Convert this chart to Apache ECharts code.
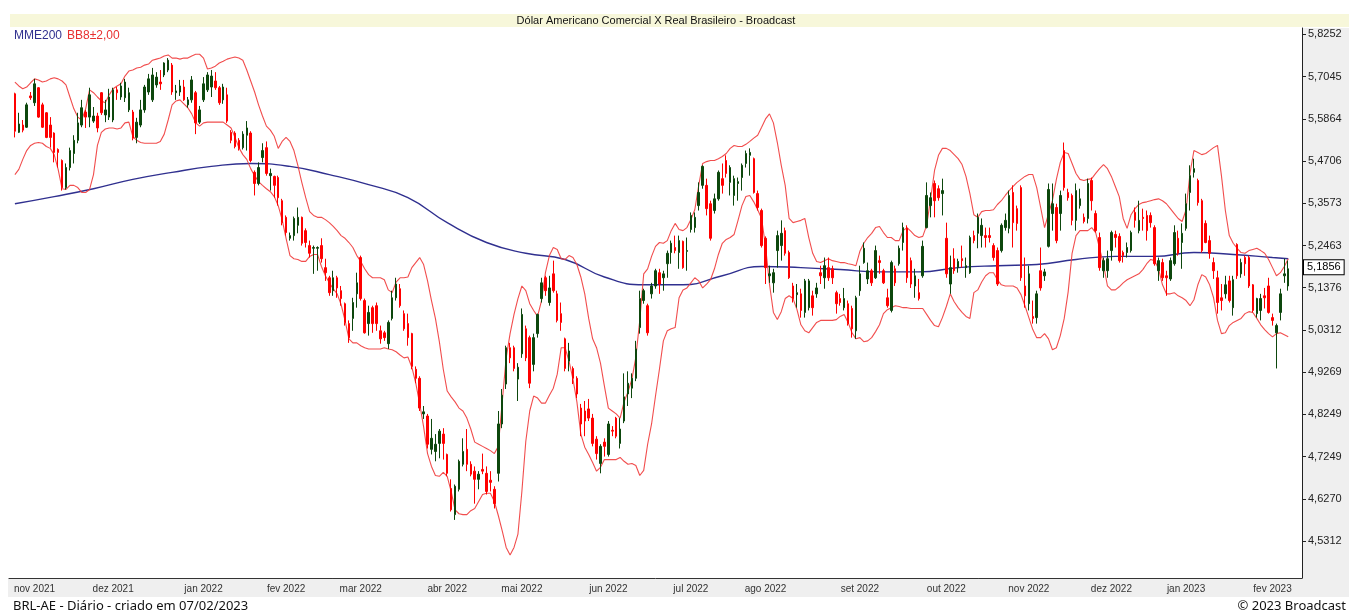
<!DOCTYPE html>
<html>
<head>
<meta charset="utf-8">
<script src="https://cdn.jsdelivr.net/npm/echarts@6/dist/echarts.min.js"></script>
<style>
  html, body { margin: 0; padding: 0; background: #fff; }
  #chart { width: 1349px; height: 614px; }
</style>
</head>
<body>
<div id="chart"></div>
<script>
// BRL-AE daily, 25/10/2021 .. 07/02/2023
const openValues = [
  5.656,5.549,5.569,5.563,5.650,5.631,5.673,5.625,5.603,5.569,
  5.547,5.502,5.472,5.399,5.453,5.491,5.527,5.569,5.605,5.591,
  5.580,5.594,5.659,5.597,5.591,5.583,5.667,5.647,5.645,5.611,
  5.605,5.535,5.569,5.611,5.661,5.639,5.681,5.689,5.709,5.723,
  5.737,5.659,5.661,5.675,5.625,5.639,5.659,5.577,5.639,5.667,
  5.675,5.692,5.673,5.639,5.653,5.549,5.547,5.527,5.507,5.541,
  5.547,5.440,5.410,5.480,5.507,5.431,5.429,5.426,5.364,5.320,
  5.265,5.272,5.299,5.320,5.285,5.246,5.239,5.239,5.246,5.189,
  5.163,5.130,5.163,5.130,5.097,5.047,5.060,5.122,5.215,5.105,
  5.047,5.087,5.092,5.029,5.024,4.997,5.060,5.112,5.135,5.072,
  5.047,5.022,4.934,4.912,4.826,4.821,4.742,4.737,4.756,4.778,
  4.730,4.651,4.591,4.649,4.707,4.742,4.707,4.691,4.672,4.695,
  4.686,4.670,4.649,4.686,4.802,4.898,4.987,4.987,4.910,4.972,
  5.034,5.012,4.946,5.022,5.110,5.163,5.100,5.173,5.122,5.072,
  5.009,4.954,4.936,4.912,4.840,4.833,4.838,4.816,4.766,4.709,
  4.759,4.730,4.787,4.816,4.756,4.809,4.874,4.888,4.912,5.037,
  5.105,5.092,5.122,5.142,5.176,5.163,5.199,5.228,5.241,5.228,
  5.257,5.231,5.288,5.293,5.351,5.405,5.405,5.356,5.338,5.369,
  5.423,5.472,5.413,5.378,5.410,5.426,5.464,5.486,5.477,5.383,
  5.338,5.265,5.168,5.150,5.233,5.246,5.285,5.228,5.142,5.120,
  5.122,5.075,5.087,5.117,5.122,5.176,5.163,5.189,5.186,5.125,
  5.110,5.087,5.097,5.085,5.029,5.130,5.202,5.160,5.181,5.163,
  5.207,5.181,5.112,5.080,5.186,5.199,5.254,5.291,5.207,5.142,
  5.125,5.168,5.293,5.351,5.410,5.396,5.383,5.265,5.147,5.212,
  5.189,5.212,5.189,5.176,5.272,5.278,5.272,5.272,5.272,5.246,
  5.233,5.233,5.293,5.291,5.386,5.343,5.399,5.142,5.097,5.065,
  5.062,5.181,5.168,5.244,5.330,5.346,5.330,5.499,5.386,5.378,
  5.312,5.351,5.320,5.317,5.418,5.330,5.267,5.181,5.181,5.233,
  5.275,5.270,5.228,5.228,5.233,5.333,5.285,5.320,5.325,5.325,
  5.293,5.181,5.202,5.168,5.160,5.199,5.265,5.254,5.291,5.386,
  5.440,5.418,5.364,5.304,5.259,5.202,5.163,5.112,5.122,5.155,
  5.087,5.249,5.173,5.215,5.215,5.145,5.072,5.080,5.117,5.142,
  5.062,5.024,5.075,5.168,5.142
];
const closeValues = [
  5.552,5.572,5.555,5.625,5.645,5.684,5.591,5.563,5.535,5.535,
  5.494,5.494,5.399,5.453,5.499,5.527,5.575,5.617,5.591,5.653,
  5.594,5.561,5.603,5.611,5.647,5.667,5.659,5.678,5.689,5.659,
  5.533,5.577,5.611,5.675,5.698,5.709,5.703,5.684,5.743,5.751,
  5.661,5.664,5.678,5.639,5.639,5.695,5.575,5.611,5.684,5.709,
  5.706,5.673,5.631,5.675,5.580,5.527,5.510,5.505,5.544,5.561,
  5.472,5.410,5.453,5.499,5.437,5.437,5.405,5.372,5.306,5.280,
  5.272,5.317,5.320,5.252,5.254,5.226,5.241,5.241,5.212,5.176,
  5.125,5.163,5.137,5.110,5.050,5.012,5.100,5.150,5.110,5.024,
  5.075,5.047,5.047,5.009,5.012,5.050,5.112,5.147,5.092,5.034,
  5.012,4.941,4.912,4.840,4.831,4.754,4.768,4.754,4.785,4.756,
  4.686,4.602,4.656,4.714,4.737,4.707,4.684,4.672,4.684,4.691,
  4.644,4.665,4.616,4.802,4.871,4.987,4.962,4.936,4.939,5.070,
  4.962,4.900,5.012,5.070,5.150,5.130,5.137,5.130,5.055,5.050,
  4.936,4.979,4.912,4.874,4.802,4.809,4.816,4.756,4.732,4.749,
  4.749,4.802,4.785,4.773,4.790,4.867,4.900,4.912,4.984,5.110,
  5.130,5.024,5.142,5.181,5.147,5.173,5.226,5.252,5.233,5.259,
  5.189,5.233,5.325,5.320,5.386,5.456,5.343,5.265,5.369,5.440,
  5.405,5.437,5.453,5.423,5.415,5.459,5.491,5.494,5.386,5.346,
  5.246,5.189,5.173,5.176,5.272,5.278,5.226,5.163,5.110,5.125,
  5.080,5.155,5.155,5.087,5.137,5.168,5.194,5.163,5.163,5.097,
  5.100,5.110,5.047,5.034,5.112,5.173,5.239,5.181,5.150,5.233,
  5.202,5.150,5.092,5.202,5.150,5.239,5.293,5.163,5.147,5.168,
  5.110,5.244,5.378,5.372,5.364,5.372,5.391,5.173,5.189,5.181,
  5.205,5.207,5.194,5.267,5.259,5.320,5.299,5.267,5.267,5.215,
  5.147,5.299,5.312,5.378,5.306,5.304,5.163,5.117,5.173,5.060,
  5.122,5.137,5.178,5.394,5.356,5.259,5.378,5.399,5.372,5.312,
  5.391,5.369,5.309,5.410,5.364,5.285,5.189,5.207,5.212,5.280,
  5.267,5.207,5.220,5.241,5.280,5.312,5.312,5.317,5.285,5.306,
  5.199,5.207,5.163,5.163,5.207,5.280,5.226,5.278,5.356,5.431,
  5.450,5.359,5.233,5.254,5.226,5.181,5.100,5.105,5.145,5.105,
  5.158,5.168,5.202,5.199,5.142,5.080,5.110,5.110,5.112,5.075,
  5.055,5.042,5.122,5.173,5.186
];
const lowValues = [
  5.535,5.547,5.549,5.561,5.639,5.622,5.589,5.561,5.533,5.507,
  5.467,5.453,5.391,5.394,5.445,5.464,5.519,5.563,5.561,5.563,
  5.575,5.549,5.597,5.577,5.583,5.577,5.639,5.639,5.633,5.605,
  5.527,5.519,5.563,5.603,5.653,5.633,5.673,5.667,5.703,5.717,
  5.653,5.639,5.650,5.636,5.617,5.631,5.544,5.572,5.633,5.661,
  5.647,5.667,5.625,5.628,5.575,5.519,5.505,5.499,5.502,5.499,
  5.467,5.378,5.405,5.467,5.431,5.391,5.372,5.351,5.299,5.272,
  5.259,5.259,5.278,5.246,5.241,5.215,5.173,5.181,5.202,5.155,
  5.117,5.117,5.112,5.092,5.042,4.999,5.029,5.087,5.105,5.022,
  5.017,5.024,5.029,4.997,5.004,4.984,5.055,5.105,5.087,5.029,
  4.992,4.934,4.900,4.833,4.814,4.744,4.730,4.714,4.721,4.718,
  4.679,4.598,4.579,4.644,4.702,4.691,4.679,4.616,4.649,4.684,
  4.637,4.644,4.605,4.667,4.792,4.886,4.949,4.929,4.857,4.962,
  4.954,4.888,4.929,5.012,5.100,5.117,5.092,5.125,5.050,5.029,
  4.929,4.929,4.898,4.864,4.773,4.773,4.809,4.749,4.718,4.686,
  4.725,4.725,4.773,4.768,4.744,4.804,4.845,4.864,4.905,5.022,
  5.097,5.017,5.110,5.135,5.122,5.130,5.163,5.199,5.226,5.186,
  5.186,5.181,5.280,5.280,5.338,5.396,5.325,5.259,5.330,5.364,
  5.383,5.426,5.378,5.351,5.364,5.391,5.453,5.431,5.383,5.338,
  5.241,5.147,5.150,5.125,5.189,5.207,5.220,5.160,5.100,5.087,
  5.062,5.062,5.080,5.067,5.112,5.147,5.135,5.155,5.147,5.072,
  5.092,5.080,5.042,5.012,5.009,5.117,5.199,5.147,5.142,5.160,
  5.173,5.147,5.087,5.075,5.142,5.194,5.233,5.150,5.137,5.112,
  5.105,5.163,5.291,5.320,5.320,5.364,5.325,5.163,5.122,5.173,
  5.176,5.189,5.163,5.173,5.252,5.239,5.241,5.241,5.254,5.207,
  5.142,5.228,5.285,5.278,5.241,5.285,5.155,5.087,5.080,5.047,
  5.047,5.130,5.155,5.241,5.285,5.252,5.285,5.391,5.364,5.299,
  5.285,5.343,5.304,5.304,5.338,5.280,5.181,5.163,5.163,5.207,
  5.241,5.202,5.202,5.215,5.228,5.293,5.278,5.285,5.259,5.293,
  5.194,5.155,5.155,5.117,5.155,5.194,5.220,5.186,5.285,5.338,
  5.426,5.351,5.228,5.252,5.212,5.160,5.072,5.080,5.110,5.100,
  5.067,5.160,5.163,5.168,5.137,5.075,5.062,5.055,5.085,5.072,
  5.042,4.936,5.055,5.150,5.130
];
const highValues = [
  5.659,5.603,5.583,5.631,5.661,5.698,5.675,5.631,5.605,5.591,
  5.549,5.505,5.475,5.464,5.507,5.541,5.603,5.639,5.611,5.673,
  5.619,5.603,5.661,5.639,5.670,5.673,5.675,5.687,5.698,5.673,
  5.611,5.589,5.639,5.681,5.712,5.729,5.717,5.723,5.745,5.757,
  5.743,5.681,5.695,5.695,5.647,5.706,5.664,5.622,5.703,5.717,
  5.723,5.717,5.678,5.684,5.673,5.555,5.552,5.533,5.552,5.580,
  5.552,5.445,5.467,5.519,5.524,5.450,5.431,5.431,5.369,5.325,
  5.280,5.322,5.346,5.322,5.291,5.259,5.246,5.244,5.265,5.212,
  5.168,5.181,5.168,5.142,5.100,5.055,5.112,5.176,5.220,5.110,
  5.092,5.092,5.100,5.042,5.029,5.055,5.130,5.163,5.147,5.080,
  5.072,5.024,4.941,4.917,4.845,4.826,4.814,4.778,4.790,4.792,
  4.732,4.672,4.660,4.718,4.768,4.790,4.714,4.702,4.691,4.732,
  4.702,4.691,4.656,4.833,4.886,4.992,4.999,4.992,4.949,5.085,
  5.042,5.017,5.022,5.072,5.163,5.168,5.168,5.207,5.130,5.100,
  5.012,4.999,4.941,4.917,4.850,4.857,4.862,4.826,4.773,4.754,
  4.768,4.809,4.797,4.819,4.816,4.924,4.929,4.924,5.004,5.130,
  5.135,5.097,5.150,5.186,5.186,5.181,5.233,5.259,5.272,5.272,
  5.259,5.267,5.333,5.333,5.413,5.459,5.423,5.364,5.383,5.445,
  5.464,5.486,5.459,5.431,5.426,5.464,5.499,5.505,5.480,5.391,
  5.343,5.270,5.194,5.186,5.285,5.312,5.293,5.233,5.150,5.147,
  5.135,5.160,5.160,5.130,5.150,5.194,5.215,5.215,5.194,5.130,
  5.122,5.137,5.105,5.092,5.117,5.194,5.254,5.202,5.186,5.246,
  5.220,5.186,5.135,5.207,5.194,5.246,5.306,5.299,5.215,5.186,
  5.160,5.259,5.413,5.386,5.418,5.405,5.423,5.306,5.220,5.239,
  5.212,5.246,5.215,5.272,5.285,5.330,5.317,5.293,5.293,5.252,
  5.241,5.304,5.330,5.391,5.405,5.351,5.405,5.215,5.194,5.105,
  5.130,5.241,5.186,5.410,5.410,5.356,5.391,5.521,5.396,5.383,
  5.410,5.396,5.330,5.423,5.426,5.338,5.280,5.215,5.233,5.285,
  5.285,5.278,5.233,5.254,5.285,5.346,5.364,5.343,5.338,5.333,
  5.299,5.215,5.212,5.181,5.215,5.299,5.285,5.304,5.383,5.459,
  5.477,5.423,5.369,5.312,5.272,5.215,5.181,5.147,5.168,5.168,
  5.168,5.252,5.212,5.220,5.220,5.147,5.112,5.122,5.137,5.163,
  5.072,5.047,5.135,5.212,5.207
];
// Bollinger BB8 +-2
const upperBand = [
  5.689,5.678,5.670,5.675,5.687,5.698,5.695,5.689,5.692,5.698,
  5.701,5.698,5.692,5.681,5.647,5.614,5.591,5.583,5.614,5.667,
  5.659,5.647,5.636,5.631,5.653,5.670,5.678,5.684,5.706,5.720,
  5.723,5.729,5.731,5.737,5.740,5.751,5.754,5.757,5.763,5.766,
  5.757,5.757,5.754,5.757,5.757,5.763,5.768,5.768,5.757,5.726,
  5.729,5.734,5.743,5.748,5.754,5.757,5.760,5.757,5.751,5.723,
  5.692,5.661,5.625,5.594,5.566,5.555,5.538,5.505,5.524,5.535,
  5.524,5.499,5.459,5.413,5.372,5.335,5.325,5.320,5.320,5.314,
  5.306,5.296,5.285,5.272,5.265,5.254,5.241,5.220,5.205,5.186,
  5.171,5.163,5.163,5.163,5.158,5.132,5.125,5.152,5.163,5.163,
  5.165,5.189,5.202,5.215,5.197,5.155,5.105,5.060,5.002,4.934,
  4.881,4.867,4.855,4.840,4.833,4.816,4.790,4.759,4.754,4.749,
  4.744,4.739,4.732,4.749,4.855,4.962,5.022,5.070,5.110,5.142,
  5.130,5.097,5.080,5.065,5.105,5.176,5.220,5.241,5.236,5.212,
  5.210,5.220,5.215,5.197,5.165,5.122,5.060,5.009,4.987,4.949,
  4.893,4.840,4.833,4.826,4.816,4.855,4.879,4.910,4.964,5.055,
  5.173,5.186,5.218,5.244,5.254,5.252,5.259,5.285,5.304,5.288,
  5.285,5.293,5.314,5.340,5.405,5.464,5.469,5.472,5.472,5.477,
  5.483,5.491,5.505,5.513,5.510,5.510,5.516,5.524,5.533,5.541,
  5.563,5.586,5.600,5.575,5.521,5.459,5.405,5.317,5.306,5.309,
  5.312,5.317,5.267,5.226,5.205,5.202,5.207,5.212,5.207,5.205,
  5.202,5.202,5.199,5.197,5.194,5.231,5.252,5.267,5.278,5.293,
  5.296,5.280,5.267,5.267,5.259,5.259,5.285,5.293,5.283,5.272,
  5.267,5.270,5.299,5.369,5.445,5.486,5.505,5.505,5.499,5.488,
  5.477,5.461,5.429,5.383,5.327,5.320,5.335,5.338,5.338,5.340,
  5.354,5.364,5.378,5.391,5.402,5.413,5.421,5.429,5.434,5.434,
  5.399,5.346,5.293,5.330,5.364,5.421,5.467,5.494,5.491,5.464,
  5.437,5.421,5.418,5.421,5.423,5.437,5.450,5.461,5.450,5.429,
  5.402,5.375,5.317,5.291,5.327,5.343,5.354,5.359,5.361,5.364,
  5.367,5.369,5.364,5.356,5.343,5.330,5.317,5.309,5.340,5.437,
  5.499,5.494,5.488,5.491,5.499,5.507,5.513,5.431,5.338,5.272,
  5.252,5.239,5.228,5.226,5.233,5.236,5.239,5.233,5.226,5.210,
  5.189,5.168,5.176,5.192,5.212
];
const lowerBand = [
  5.434,5.448,5.475,5.499,5.513,5.519,5.521,5.519,5.510,5.505,
  5.488,5.448,5.396,5.394,5.405,5.405,5.399,5.386,5.386,5.394,
  5.434,5.513,5.549,5.558,5.561,5.561,5.558,5.561,5.575,5.577,
  5.538,5.527,5.521,5.519,5.519,5.519,5.519,5.524,5.544,5.583,
  5.625,5.636,5.639,5.628,5.617,5.600,5.575,5.566,5.575,5.577,
  5.577,5.577,5.577,5.577,5.569,5.561,5.535,5.507,5.488,5.475,
  5.450,5.431,5.415,5.405,5.396,5.388,5.375,5.351,5.314,5.265,
  5.220,5.212,5.210,5.205,5.205,5.218,5.223,5.223,5.192,5.168,
  5.150,5.135,5.122,5.095,5.055,5.009,4.999,4.999,4.992,4.987,
  4.984,4.984,4.984,4.984,4.987,4.984,4.982,4.977,4.969,4.962,
  4.964,4.939,4.900,4.850,4.795,4.732,4.702,4.681,4.679,4.688,
  4.679,4.644,4.602,4.593,4.591,4.591,4.600,4.605,4.621,4.637,
  4.640,4.640,4.621,4.589,4.554,4.517,4.500,4.517,4.547,4.644,
  4.761,4.833,4.869,4.864,4.852,4.852,4.871,4.888,4.922,4.987,
  4.987,4.954,4.910,4.855,4.778,4.747,4.730,4.711,4.691,4.700,
  4.718,4.718,4.718,4.718,4.723,4.714,4.707,4.709,4.704,4.681,
  4.693,4.754,4.802,4.869,4.934,5.004,5.029,5.034,5.037,5.112,
  5.132,5.137,5.150,5.163,5.155,5.137,5.147,5.158,5.186,5.223,
  5.252,5.262,5.267,5.275,5.312,5.351,5.375,5.378,5.361,5.340,
  5.317,5.244,5.147,5.075,5.057,5.077,5.110,5.117,5.110,5.082,
  5.044,5.029,5.024,5.037,5.050,5.055,5.055,5.055,5.055,5.057,
  5.065,5.070,5.050,5.024,5.009,5.012,5.002,5.004,5.012,5.027,
  5.044,5.072,5.082,5.087,5.092,5.090,5.087,5.087,5.085,5.085,
  5.085,5.085,5.070,5.055,5.042,5.039,5.062,5.090,5.122,5.102,
  5.087,5.075,5.065,5.060,5.125,5.132,5.152,5.168,5.176,5.176,
  5.158,5.145,5.142,5.142,5.142,5.137,5.120,5.092,5.062,5.032,
  5.012,5.012,5.022,5.009,4.982,4.987,5.017,5.060,5.127,5.226,
  5.272,5.285,5.285,5.285,5.293,5.280,5.239,5.197,5.142,5.132,
  5.132,5.140,5.150,5.158,5.163,5.168,5.173,5.184,5.199,5.210,
  5.207,5.186,5.145,5.122,5.122,5.125,5.117,5.112,5.105,5.092,
  5.107,5.145,5.171,5.165,5.145,5.112,5.055,5.022,5.024,5.042,
  5.050,5.055,5.060,5.072,5.077,5.075,5.060,5.044,5.032,5.022,
  5.014,5.022,5.024,5.019,5.014
];
// MME200 read at every tenth session
const mmeIndex = [0,10,20,30,40,50,60,70,80,90,100,110,120,130,140,150,160,170,180,190,200,210,220,230,240,250,260,270,280,290,300,310,320,324];
const mmeValues = [5.356,5.375,5.396,5.421,5.440,5.456,5.464,5.456,5.434,5.407,5.372,5.306,5.254,5.226,5.210,5.165,5.145,5.145,5.168,5.192,5.189,5.184,5.178,5.178,5.189,5.194,5.197,5.210,5.218,5.218,5.228,5.223,5.215,5.212];

const monthLabels = ['nov 2021','dez 2021','jan 2022','fev 2022','mar 2022','abr 2022','mai 2022','jun 2022','jul 2022','ago 2022','set 2022','out 2022','nov 2022','dez 2022','jan 2023','fev 2023'];
const monthStartIdx = [5,25,48,69,88,110,129,151,172,191,215,237,258,279,298,320];
const yTickValues = [4.5312,4.6270,4.7249,4.8249,4.9269,5.0312,5.1376,5.2463,5.3573,5.4706,5.5864,5.7045,5.8252];
const lastQuote = 5.1856;

const yMin = 4.449, yMax = 5.8435;
const lead = 1, trail = 3;
const N = closeValues.length;
const total = lead + N + trail;

const categories = new Array(total).fill('');
monthStartIdx.forEach((idx, k) => { categories[idx + lead] = monthLabels[k]; });

const pad = (arr, empty) => new Array(lead).fill(empty).concat(arr, new Array(trail).fill(empty));
const candleData = pad(openValues.map((o, i) => [o, closeValues[i], lowValues[i], highValues[i]]), ['-', '-', '-', '-']);
const mmeRow = new Array(N).fill(null);
mmeIndex.forEach((idx, k) => { mmeRow[idx] = mmeValues[k]; });

const fontName = 'Liberation Sans';
const showMonth = (idx, val) => val !== '';

const chart = echarts.init(document.getElementById('chart'), null, { renderer: 'canvas' });
chart.setOption({
  animation: false,
  backgroundColor: '#ffffff',
  grid: { left: 9, right: 47, top: 28, bottom: 36, containLabel: false },
  xAxis: {
    type: 'category',
    data: categories,
    boundaryGap: true,
    axisLine: { lineStyle: { color: '#333', width: 1 } },
    axisTick: { interval: showMonth, alignWithLabel: true, length: 4, lineStyle: { color: '#333' } },
    axisLabel: { interval: showMonth, color: '#333', fontSize: 10, fontFamily: fontName, margin: 6 },
    splitLine: { show: false }
  },
  yAxis: [
    { type: 'log', min: yMin, max: yMax, show: false, splitLine: { show: false } },
    {
      type: 'value',
      position: 'right',
      min: Math.log(yMin),
      max: Math.log(yMax),
      axisLine: { show: true, lineStyle: { color: '#222', width: 1 } },
      axisTick: { show: true, length: 4, customValues: yTickValues.map(Math.log), lineStyle: { color: '#222' } },
      axisLabel: {
        customValues: yTickValues.map(Math.log),
        formatter: v => Math.exp(v).toFixed(4).replace('.', ','),
        color: '#222', fontSize: 11, fontFamily: fontName, margin: 6
      },
      splitLine: { show: false }
    }
  ],
  graphic: {
    elements: [
      { type: 'rect', silent: true, z: -10, shape: { x: 10, y: 14, width: 1339, height: 13 }, style: { fill: '#f7f7da' } },
      { type: 'rect', silent: true, z: -10, shape: { x: 1303, y: 28, width: 46, height: 550 }, style: { fill: '#efefef' } },
      { type: 'rect', silent: true, z: -10, shape: { x: 8, y: 578, width: 1341, height: 19 }, style: { fill: '#efefef' } },
      { type: 'text', x: 656, y: 21, style: { text: 'Dólar Americano Comercial X Real Brasileiro - Broadcast', font: '11px "Liberation Sans"', fill: '#111', align: 'center', verticalAlign: 'middle' } },
      { type: 'text', x: 14, y: 36, style: { text: 'MME200', font: '12px "Liberation Sans"', fill: '#30308f', align: 'left', verticalAlign: 'middle' } },
      { type: 'text', x: 67, y: 36, style: { text: 'BB8±2,00', font: '12px "Liberation Sans"', fill: '#e83030', align: 'left', verticalAlign: 'middle' } },
      { type: 'text', x: 13, y: 606, style: { text: 'BRL-AE - Diário - criado em 07/02/2023', font: '13px "Noto Sans"', fill: '#111', align: 'left', verticalAlign: 'middle' } },
      { type: 'text', x: 1346, y: 606, style: { text: '© 2023 Broadcast', font: '13px "Noto Sans"', fill: '#111', align: 'right', verticalAlign: 'middle' } }
    ]
  },
  series: [
    {
      name: 'MME200', type: 'line', yAxisIndex: 0, data: pad(mmeRow, null),
      connectNulls: true, smooth: true, showSymbol: false, silent: true, z: 1,
      lineStyle: { color: '#30308f', width: 1.4 }
    },
    {
      name: 'BB sup', type: 'line', yAxisIndex: 0, data: pad(upperBand, null),
      showSymbol: false, silent: true, z: 1,
      lineStyle: { color: '#f03a3a', width: 1.1, opacity: 0.9 }
    },
    {
      name: 'BB inf', type: 'line', yAxisIndex: 0, data: pad(lowerBand, null),
      showSymbol: false, silent: true, z: 1,
      lineStyle: { color: '#f03a3a', width: 1.1, opacity: 0.9 }
    },
    {
      name: 'BRL-AE', type: 'candlestick', yAxisIndex: 0, data: candleData,
      barWidth: 2, z: 3,
      itemStyle: { color: '#0d470d', borderColor: '#0d470d', color0: '#ff0000', borderColor0: '#ff0000', borderWidth: 1 },
      markLine: {
        silent: true, symbol: ['none', 'none'], animation: false,
        lineStyle: { color: 'transparent', width: 0 },
        label: {
          show: true, position: 'end', distance: 2,
          formatter: () => lastQuote.toFixed(4).replace('.', ','),
          color: '#000', fontSize: 11, fontFamily: fontName,
          backgroundColor: '#ffffff', borderColor: '#000', borderWidth: 1, padding: [2, 3, 1, 3]
        },
        data: [{ yAxis: lastQuote }]
      }
    }
  ]
});
</script>
</body>
</html>
